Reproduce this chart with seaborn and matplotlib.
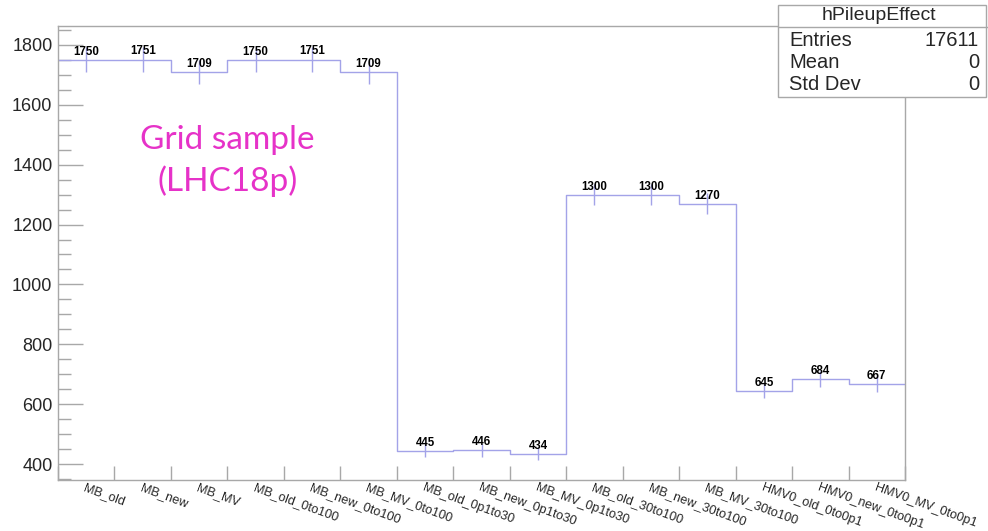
import matplotlib
matplotlib.use("Agg")
import matplotlib.pyplot as plt
import numpy as np
import pandas as pd
import seaborn as sns
from matplotlib.ticker import MultipleLocator

# bin labels and contents of hPileupEffect
categories = ["MB_old", "MB_new", "MB_MV",
              "MB_old_0to100", "MB_new_0to100", "MB_MV_0to100",
              "MB_old_0p1to30", "MB_new_0p1to30", "MB_MV_0p1to30",
              "MB_old_30to100", "MB_new_30to100", "MB_MV_30to100",
              "HMV0_old_0to0p1", "HMV0_new_0to0p1", "HMV0_MV_0to0p1"]
counts = [1750, 1751, 1709, 1750, 1751, 1709,
          445, 446, 434, 1300, 1300, 1270, 645, 684, 667]
stat_rows = [("Entries", "17611"), ("Mean", "0"), ("Std Dev", "0")]

line_col = "#a3a3e8"
frame_col = "#a8a8a8"

sns.set_theme(style="white")
plt.rcParams["font.family"] = ["Liberation Sans", "DejaVu Sans"]

df = pd.DataFrame({"bin": np.arange(len(categories)), "count": counts})
edges = [i - 0.5 for i in range(len(categories) + 1)]

fig = plt.figure(figsize=(9.88, 5.31), dpi=100)
ax = fig.add_axes([58 / 988, 51 / 531, 847 / 988, 454 / 531])

sns.histplot(data=df, x="bin", weights="count", bins=edges,
             element="step", fill=False, color=line_col, linewidth=1.0, ax=ax)

# poisson errors like ROOT draws them
ax.errorbar(df["bin"], df["count"], yerr=np.sqrt(df["count"]), fmt="none",
            ecolor=line_col, elinewidth=1.0, capsize=0)

# bin content text (TEXT option)
for b, c in zip(df["bin"], df["count"]):
    ax.annotate(str(c), (b, c), xytext=(0, 1.5), textcoords="offset points",
                ha="center", va="bottom", fontsize=8.3, fontweight="bold", color="black")

ax.set_xlim(-0.5, len(categories) - 0.5)
ax.set_ylim(347, 1863)
ax.set_xlabel("")
ax.set_ylabel("")

# y axis: major/minor ticks pointing in
ax.yaxis.set_major_locator(MultipleLocator(200))
ax.yaxis.set_minor_locator(MultipleLocator(50))
ax.tick_params(axis="y", which="major", direction="in", length=18, width=1.0,
               color=frame_col, labelsize=13, left=True, pad=4)
ax.tick_params(axis="y", which="minor", direction="in", length=9, width=1.0,
               color=frame_col, left=True)

# x axis: ticks at bin edges, labels rotated at bin centres
ax.set_xticks(edges, minor=True)
ax.set_xticks(df["bin"])
ax.set_xticklabels(categories, rotation=-20, ha="left", va="top",
                   rotation_mode="anchor", fontsize=9.2)
ax.tick_params(axis="x", which="major", length=0, pad=1)
ax.tick_params(axis="x", which="minor", direction="in", length=10, width=1.0,
               color=frame_col, bottom=True)

for s in ax.spines.values():
    s.set_color(frame_col)
    s.set_linewidth(1.0)

ax.text(0.2, 0.702, "Grid sample\n(LHC18p)", transform=ax.transAxes,
        ha="center", va="center", fontsize=24, color="#e632c8",
        family=["Lato", "DejaVu Sans"], linespacing=1.4)

# stats box
bx0, bx1 = 778 / 988, 988 / 988
box_top, box_bot = 1 - 5 / 531, 1 - 97 / 531
fig.patches.append(plt.Rectangle((bx0, box_bot), bx1 - bx0 - 0.002, box_top - box_bot,
                                 transform=fig.transFigure, facecolor="white",
                                 edgecolor=frame_col, lw=1.0, zorder=5))
fig.lines.append(plt.Line2D([bx0, bx1], [1 - 27 / 531] * 2, transform=fig.transFigure,
                            color=frame_col, lw=1.0, zorder=6))
fig.text((bx0 + bx1) / 2 - 0.004, 1 - 16 / 531, "hPileupEffect", ha="center", va="center",
         fontsize=14, zorder=7)
for i, (k, v) in enumerate(stat_rows):
    yy = 1 - (41 + 22 * i) / 531
    fig.text(bx0 + 11 / 988, yy, k, ha="left", va="center", fontsize=14.5, zorder=7)
    fig.text(bx1 - 9 / 988, yy, v, ha="right", va="center", fontsize=14.5, zorder=7)

fig.savefig("out.png", dpi=100)
